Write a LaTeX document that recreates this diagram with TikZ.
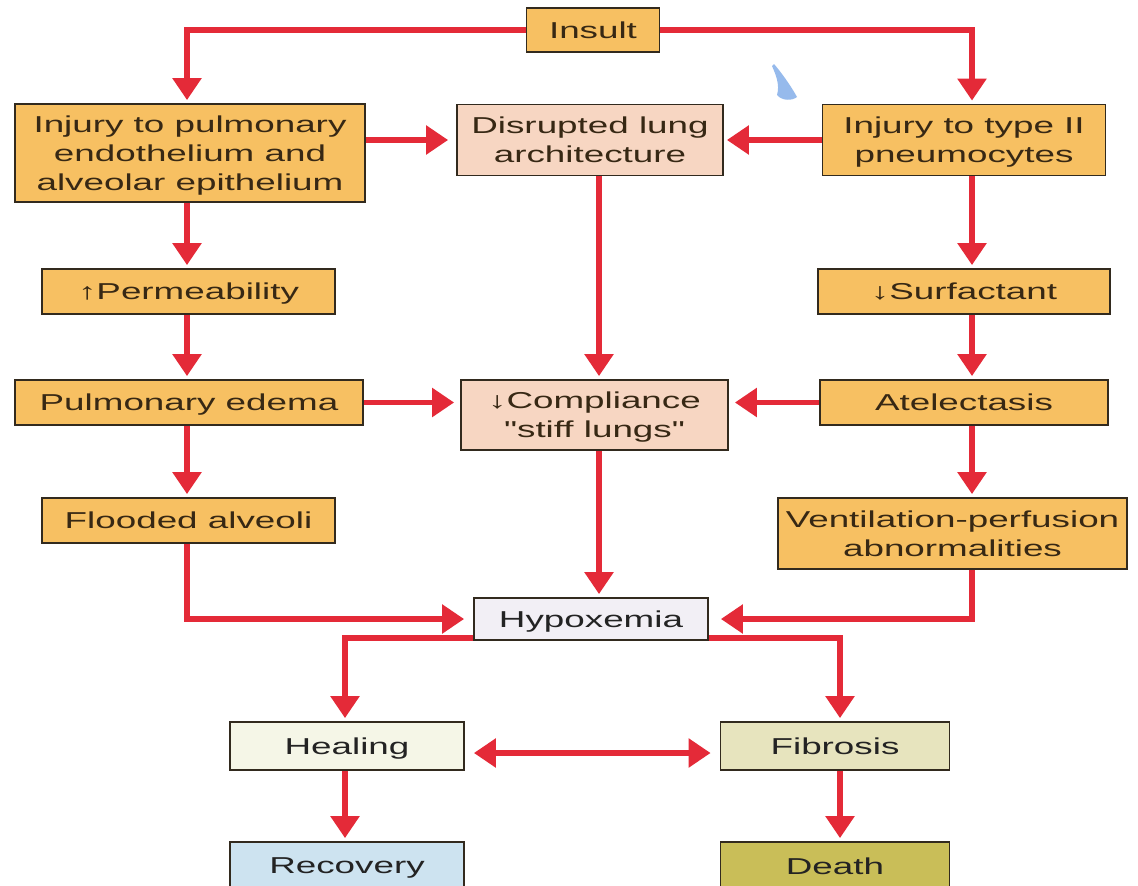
\documentclass[tikz,border=0pt]{standalone}
\usepackage{fontspec}
\setmainfont{Liberation Sans}[FakeStretch=1.6, Ligatures=TeXOff]
\usetikzlibrary{arrows.meta}
\definecolor{arr}{RGB}{228,42,56}
\definecolor{boxline}{RGB}{50,42,30}
\definecolor{orangefill}{RGB}{247,192,98}
\definecolor{peachfill}{RGB}{247,214,194}
\definecolor{hypfill}{RGB}{242,239,245}
\definecolor{healfill}{RGB}{245,246,231}
\definecolor{fibfill}{RGB}{231,228,190}
\definecolor{recfill}{RGB}{205,227,240}
\definecolor{deathfill}{RGB}{201,190,88}
\definecolor{browntext}{RGB}{55,40,20}
\definecolor{graytext}{RGB}{35,35,35}
\definecolor{blob}{RGB}{150,186,236}
\begin{document}
\begin{tikzpicture}[x=1pt,y=-1pt,
  box/.style={draw=boxline, line width=1.8pt, rectangle, inner sep=0pt, align=center,
    text depth=0pt, font=\fontsize{23}{29}\selectfont},
  obox/.style={box, fill=orangefill, text=browntext},
  pbox/.style={box, fill=peachfill, text=browntext},
  gbox/.style={box, text=graytext},
  flow/.style={draw=arr, line width=5.5pt, line join=miter,
    -{Triangle[length=22pt,width=28pt]}, shorten >=3pt},
  bothflow/.style={draw=arr, line width=5.5pt,
    {Triangle[length=22pt,width=28pt]}-{Triangle[length=22pt,width=28pt]},
    shorten >=9pt, shorten <=9pt}]
\clip (0,0) rectangle (1138,886);
\fill[white] (0,0) rectangle (1138,886);

% stray blue mark
\fill[blob] (774,64) .. controls (781,72) and (791,86) .. (797,97)
  .. controls (792,101) and (782,101) .. (777,95)
  .. controls (780,85) and (776,75) .. (772,66) -- cycle;

% column coordinates
\coordinate (xL) at (187,0);
\coordinate (xM) at (599,0);
\coordinate (xR) at (972,0);
\coordinate (xH) at (345,0);
\coordinate (xF) at (840,0);

% nodes
\node[obox, minimum width=133pt, minimum height=44pt] (insult) at (593,30) {Insult};
\node[obox, minimum width=350pt, minimum height=98pt] (inj1) at (190,153)
  {Injury to pulmonary\\endothelium and\\alveolar epithelium};
\node[pbox, minimum width=266pt, minimum height=71pt] (disr) at (590,140)
  {Disrupted lung\\architecture};
\node[obox, minimum width=283pt, minimum height=71pt] (inj2) at (964,140)
  {Injury to type II\\pneumocytes};
\node[obox, minimum width=293pt, minimum height=45pt] (perm) at (188.5,291.5) {↑Permeability};
\node[obox, minimum width=292pt, minimum height=45pt] (surf) at (964,291.5) {↓Surfactant};
\node[obox, minimum width=348pt, minimum height=45pt] (edema) at (189,402.5) {Pulmonary edema};
\node[pbox, minimum width=267pt, minimum height=70pt] (compl) at (594.5,415)
  {↓Compliance\\"stiff lungs"};
\node[obox, minimum width=288pt, minimum height=45pt] (atel) at (964,402.5) {Atelectasis};
\node[obox, minimum width=293pt, minimum height=45pt] (flood) at (188.5,520.5) {Flooded alveoli};
\node[obox, minimum width=349pt, minimum height=71pt] (vent) at (952.5,533.5)
  {Ventilation-perfusion\\abnormalities};
\node[gbox, fill=hypfill, minimum width=234pt, minimum height=42pt] (hypox) at (591,619) {Hypoxemia};
\node[gbox, fill=healfill, minimum width=234pt, minimum height=48pt] (heal) at (347,746) {Healing};
\node[gbox, fill=fibfill, minimum width=229pt, minimum height=48pt] (fib) at (835,746) {Fibrosis};
\node[gbox, fill=recfill, minimum width=234pt, minimum height=48pt] (recov) at (347,866) {Recovery};
\node[gbox, fill=deathfill, minimum width=229pt, minimum height=48pt] (death) at (835,866) {Death};

% connectors from insult
\draw[flow] (insult.west) -| (inj1.north -| xL);
\draw[flow] (insult.east) -| (inj2.north -| xR);

% horizontal into disrupted
\draw[flow, shorten >=8pt] (inj1.east |- disr.west) -- (disr.west);
\draw[flow] (inj2.west) -- (disr.east);

% left column
\draw[flow] (inj1.south -| xL) -- (perm.north -| xL);
\draw[flow] (perm.south -| xL) -- (edema.north -| xL);
\draw[flow] (edema.south -| xL) -- (flood.north -| xL);
\draw[flow, shorten >=9pt] (flood.south -| xL) |- (hypox.west);

% middle column
\draw[flow] (disr.south -| xM) -- (compl.north -| xM);
\draw[flow] (compl.south -| xM) -- (hypox.north -| xM);

% right column
\draw[flow] (inj2.south -| xR) -- (surf.north -| xR);
\draw[flow] (surf.south -| xR) -- (atel.north -| xR);
\draw[flow] (atel.south -| xR) -- (vent.north -| xR);
\draw[flow, shorten >=12pt] (vent.south -| xR) |- (hypox.east);

% horizontal into compliance
\draw[flow, shorten >=6pt] (edema.east) -- (compl.west |- edema.east);
\draw[flow, shorten >=6pt] (atel.west) -- (compl.east |- atel.west);

% from hypoxemia
\draw[flow] ([yshift=3pt]hypox.south west) -| (heal.north -| xH);
\draw[flow] ([yshift=3pt]hypox.south east) -| (fib.north -| xF);
\draw[bothflow] ([yshift=-7pt]heal.east) -- ([yshift=-7pt]fib.west);
\draw[flow] (heal.south -| xH) -- (recov.north -| xH);
\draw[flow] (fib.south -| xF) -- (death.north -| xF);
\end{tikzpicture}
\end{document}
